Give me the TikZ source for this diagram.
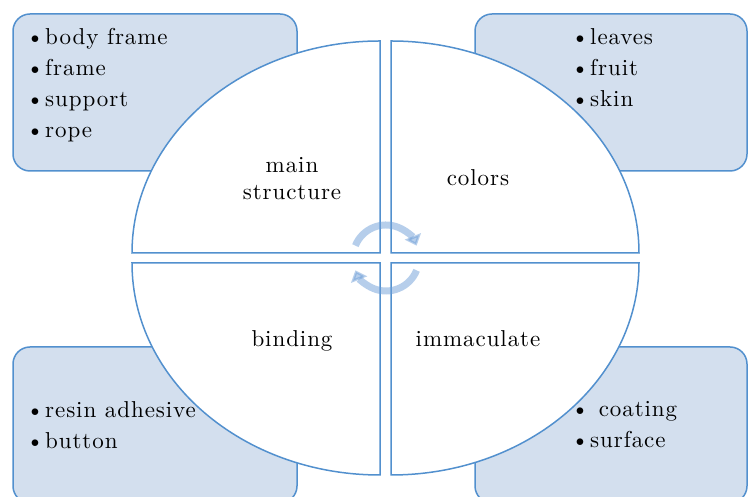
\documentclass[tikz,border=0pt]{standalone}
\usepackage{fontspec}
\usetikzlibrary{arrows.meta,positioning}
\newfontfamily\diagfont{lmroman10-regular.otf}[LetterSpace=4]
\definecolor{edgeblue}{HTML}{5290CE}
\definecolor{boxfill}{HTML}{D3DFEE}
\definecolor{cyclelight}{HTML}{6F9FD8}
\newcommand{\bul}{\makebox[16pt][l]{\kern-3pt\textbullet}}
\tikzset{
  listbox/.style={draw=edgeblue,fill=boxfill,rounded corners=17pt,line width=1.5pt,inner sep=0pt},
  quarter/.style={draw=edgeblue,fill=white,line width=1.5pt},
  items/.style={anchor=north west,align=left,inner sep=0pt,font=\diagfont\fontsize{23}{31}\selectfont},
  partlabel/.style={align=center,inner sep=0pt,font=\diagfont\fontsize{23}{27}\selectfont},
  cyclearrow/.style={-{Triangle[width=17pt,length=10pt]},line width=7pt,draw=cyclelight,opacity=0.5}
}
\begin{document}
\begin{tikzpicture}[x=1pt,y=1pt]
  \useasboundingbox (0,0) rectangle (748,497);

  \node[listbox,minimum width=284pt,minimum height=157pt] (structbox) at (155,404.5) {};
  \node[listbox,minimum width=272pt,minimum height=157pt] (colorbox) at (611,404.5) {};
  \node[listbox,minimum width=284pt,minimum height=156pt] (bindbox) at (155,72) {};
  \node[listbox,minimum width=272pt,minimum height=156pt] (cleanbox) at (611,72) {};

  \node[items] (structitems) at (29,469) {\bul body frame\\\bul frame\\\bul support\\\bul rope};
  \node[items] (coloritems) at (574,469) {\bul leaves\\\bul fruit\\\bul skin};
  \node[items] (binditems) at (29,96) {\bul resin adhesive\\\bul button};
  \node[items] (cleanitems) at (574,95.5) {\bul\ coating\\\bul surface};

  \draw[quarter] (380,244) -- ++(-248,0) arc[start angle=180,end angle=90,x radius=248pt,y radius=212pt] -- cycle;
  \draw[quarter] (391,244) -- ++(0,212) arc[start angle=90,end angle=0,x radius=248pt,y radius=212pt] -- cycle;
  \draw[quarter] (380,234) -- ++(-248,0) arc[start angle=180,end angle=270,x radius=248pt,y radius=212pt] -- cycle;
  \draw[quarter] (391,234) -- ++(248,0) arc[start angle=0,end angle=-90,x radius=248pt,y radius=212pt] -- cycle;

  \node[partlabel] (mainlbl) at (292,318.5) {main\\structure};
  \node[partlabel,anchor=base] (colorlbl) at (478,311) {colors};
  \node[partlabel,anchor=base] (bindlbl) at (292,150) {binding};
  \node[partlabel,anchor=base] (cleanlbl) at (478,150) {immaculate};

  \coordinate (hub) at (386,239);
  \draw[cyclearrow] ([shift={(158:33pt)}]hub) arc[start angle=158,end angle=22,radius=33pt];
  \draw[cyclearrow] ([shift={(-22:33pt)}]hub) arc[start angle=-22,end angle=-158,radius=33pt];
\end{tikzpicture}
\end{document}
